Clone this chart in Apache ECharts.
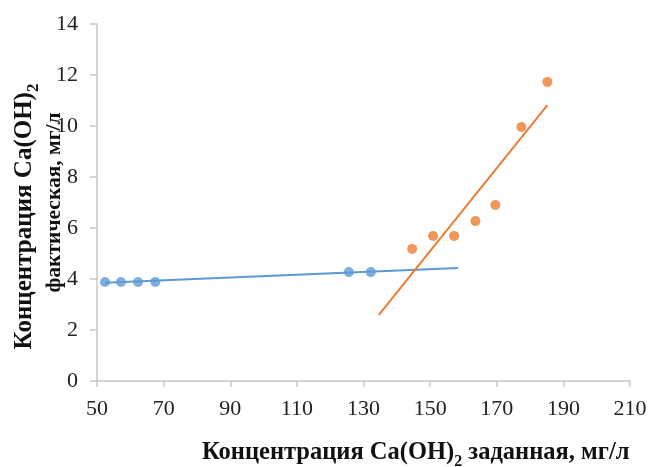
<!DOCTYPE html>
<html><head><meta charset="utf-8">
<script src="https://cdn.jsdelivr.net/npm/echarts@6/dist/echarts.min.js"></script>
<style>html,body{margin:0;padding:0;background:#fff}#c{width:652px;height:467px}</style>
</head><body><div id="c"></div>
<script>
const xTicks = [50, 70, 90, 110, 130, 150, 170, 190, 210];
const yTicks = [0, 2, 4, 6, 8, 10, 12, 14];
const blueX = [52.4, 57.2, 62.3, 67.5, 125.6, 132.2];
const blueY = [3.88, 3.88, 3.88, 3.88, 4.27, 4.27];
const orangeX = [144.6, 150.9, 157.2, 163.6, 169.6, 177.4, 185.2];
const orangeY = [5.18, 5.69, 5.69, 6.27, 6.90, 9.96, 11.73];
const blueTrendX = [52.4, 158.4];
const blueTrendY = [3.85, 4.43];
const orangeTrendX = [134.6, 185.2];
const orangeTrendY = [2.59, 10.82];

const zip = (a, b) => a.map((v, i) => [v, b[i]]);
const font = '"Liberation Serif", "Times New Roman", serif';
const chart = echarts.init(document.getElementById('c'));
chart.setOption({
  animation: false,
  backgroundColor: '#fff',
  grid: { left: 97, right: 22, top: 24, bottom: 86, outerBoundsMode: 'none', containLabel: false },
  title: {
    text: '{a|Концентрация Ca(OH)}{s|2}{a| заданная, мг/л}',
    left: 202, top: 437, padding: 0,
    textStyle: {
      rich: {
        a: { fontFamily: font, fontWeight: 'bold', fontSize: 24.5, color: '#111', lineHeight: 28, verticalAlign: 'bottom' },
        s: { fontFamily: font, fontWeight: 'bold', fontSize: 16, color: '#111', lineHeight: 28, verticalAlign: 'bottom', padding: [0, 0, -5, 0] }
      }
    }
  },
  xAxis: {
    type: 'value', min: xTicks[0], max: xTicks[xTicks.length - 1], interval: 20,
    splitLine: { show: false },
    axisLine: { show: true, lineStyle: { color: '#c8c8c8', width: 1.5 } },
    axisTick: { show: true, length: 6, lineStyle: { color: '#c8c8c8', width: 1.5 } },
    axisLabel: { fontFamily: font, fontSize: 22, color: '#222', margin: 17 }
  },
  yAxis: {
    type: 'value', min: yTicks[0], max: yTicks[yTicks.length - 1], interval: 2,
    splitLine: { show: false },
    axisLine: { show: true, lineStyle: { color: '#c8c8c8', width: 1.5 } },
    axisTick: { show: true, length: 7, lineStyle: { color: '#c8c8c8', width: 1.5 } },
    axisLabel: { fontFamily: font, fontSize: 22, color: '#222', margin: 19 },
    name: '{a|Концентрация Ca(OH)}{s|2}{p|}\n{b|фактическая, мг/л}',
    nameLocation: 'middle', nameRotate: 90, nameGap: 32, nameMoveOverlap: false,
    nameTextStyle: {
      rich: {
        a: { fontFamily: font, fontWeight: 'bold', fontSize: 25, color: '#111', lineHeight: 28, verticalAlign: 'bottom' },
        s: { fontFamily: font, fontWeight: 'bold', fontSize: 17, color: '#111', lineHeight: 28, verticalAlign: 'bottom', padding: [0, 0, -5, 0] },
        p: { width: 28, lineHeight: 28 },
        b: { fontFamily: font, fontWeight: 'bold', fontSize: 21.5, color: '#111', lineHeight: 28, verticalAlign: 'bottom' }
      }
    }
  },
  series: [
    { type: 'line', data: zip(blueTrendX, blueTrendY), showSymbol: false, lineStyle: { color: '#5B9BD5', width: 2 }, z: 2 },
    { type: 'line', data: zip(orangeTrendX, orangeTrendY), showSymbol: false, lineStyle: { color: '#ED7D31', width: 2 }, z: 2 },
    { type: 'scatter', data: zip(blueX, blueY), symbolSize: 10, itemStyle: { color: '#5B9BD5' }, z: 3 },
    { type: 'scatter', data: zip(orangeX, orangeY), symbolSize: 10, itemStyle: { color: '#ED7D31' }, z: 3 }
  ]
});
</script></body></html>
